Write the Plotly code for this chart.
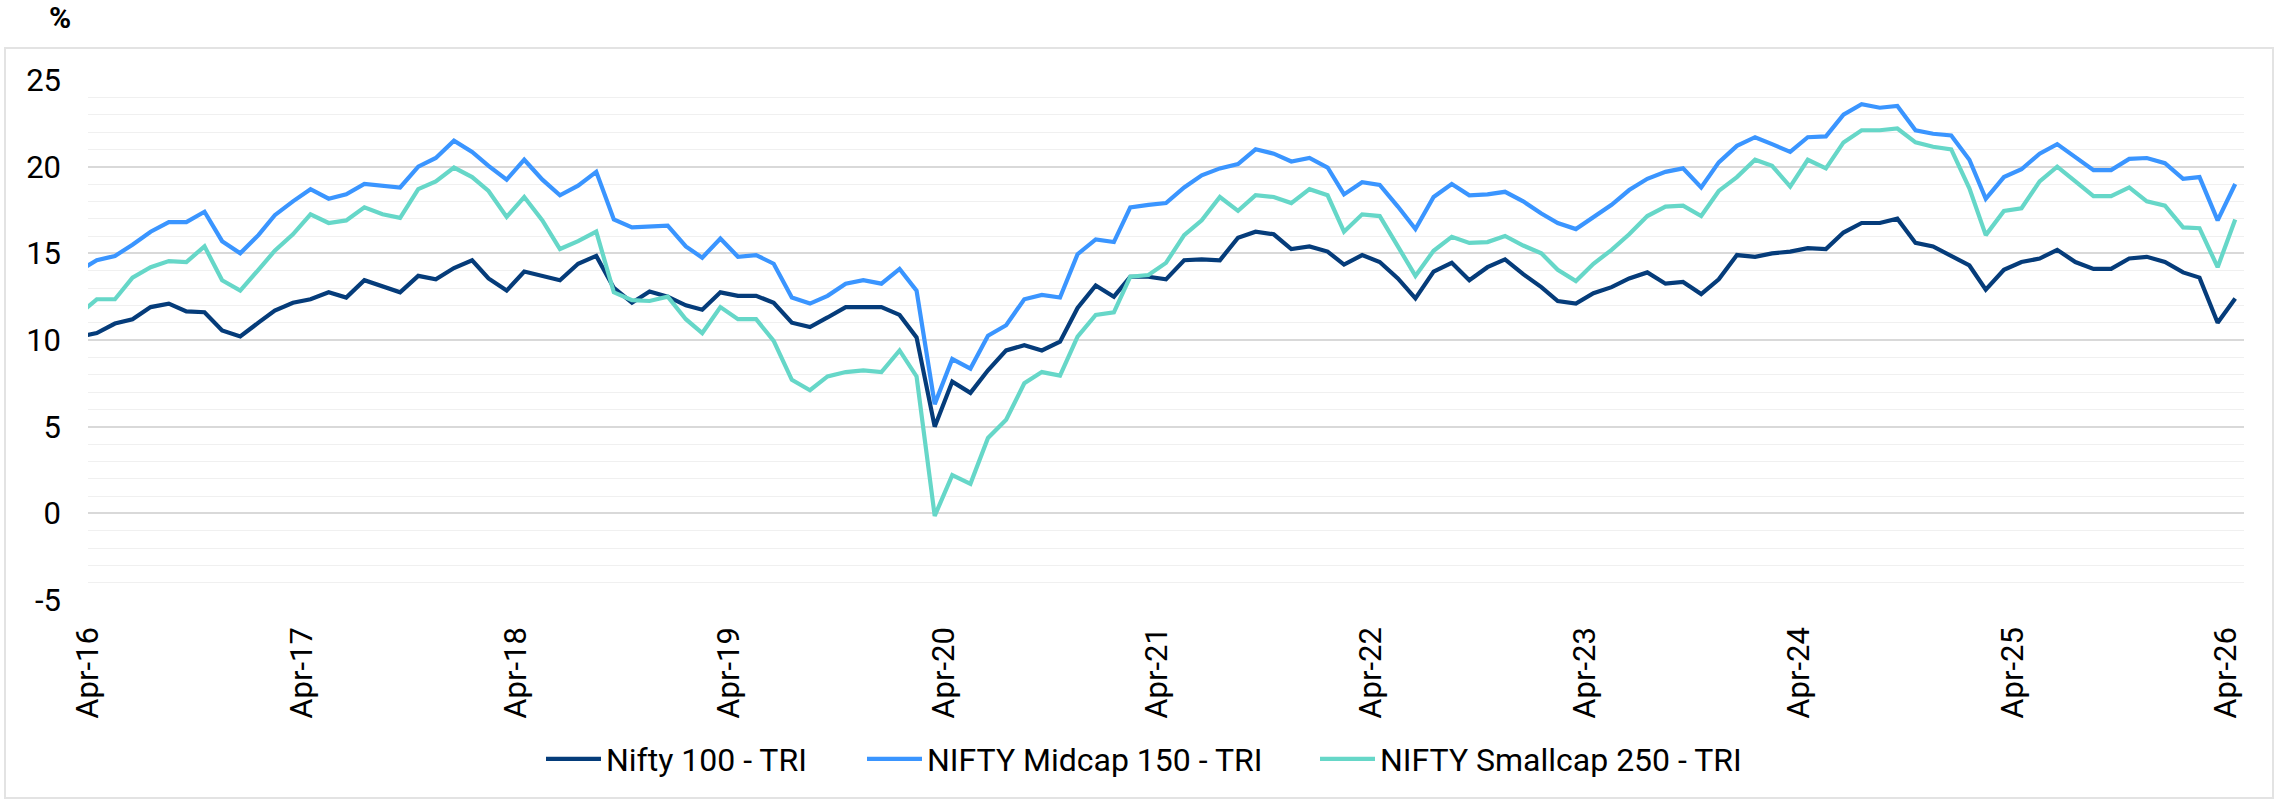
import pandas as pd
import plotly.graph_objects as go

# Month-end observations, Mar-2016 .. Apr-2026
months = pd.date_range(start="2016-03-31", periods=122, freq=pd.offsets.MonthEnd())

nifty_100_tri = [
    10.2, 10.4, 10.95, 11.2, 11.9, 12.1, 11.65, 11.6, 10.55, 10.2,
    11.0, 11.7, 12.15, 12.35, 12.75, 12.45, 13.45, 13.1, 12.75, 13.7,
    13.5, 14.15, 14.6, 13.55, 12.85, 13.95, 13.7, 13.45, 14.4, 14.85,
    13.0, 12.15, 12.8, 12.5, 12.0, 11.75, 12.75, 12.55, 12.55, 12.15,
    11.0, 10.75, 11.3, 11.9, 11.9, 11.9, 11.45, 10.15, 5.0, 7.6,
    6.95, 8.25, 9.4, 9.7, 9.4, 9.9, 11.85, 13.15, 12.5, 13.65,
    13.65, 13.5, 14.6, 14.65, 14.6, 15.9, 16.25, 16.1, 15.25, 15.4,
    15.1, 14.35, 14.9, 14.5, 13.55, 12.4, 13.95, 14.45, 13.45, 14.2,
    14.65, 13.8, 13.05, 12.25, 12.1, 12.7, 13.05, 13.55, 13.9, 13.25,
    13.35, 12.65, 13.5, 14.9, 14.8, 15.0, 15.1, 15.3, 15.25, 16.2,
    16.75, 16.75, 17.0, 15.6, 15.4, 14.85, 14.3, 12.9, 14.05, 14.5,
    14.7, 15.2, 14.5, 14.1, 14.1, 14.7, 14.8, 14.5, 13.9, 13.6,
    11.0, 12.4,
]

midcap_150_tri = [
    14.0, 14.6, 14.85, 15.5, 16.25, 16.8, 16.8, 17.4, 15.7, 15.0,
    16.05, 17.2, 18.0, 18.7, 18.15, 18.4, 19.0, 18.9, 18.8, 20.0,
    20.5, 21.5, 20.85, 20.05, 19.25, 20.4, 19.25, 18.35, 18.9, 19.7,
    16.95, 16.5, 16.55, 16.6, 15.4, 14.75, 15.85, 14.8, 14.9, 14.4,
    12.45, 12.1, 12.55, 13.25, 13.45, 13.25, 14.1, 12.85, 6.3, 8.9,
    8.35, 10.25, 10.85, 12.35, 12.6, 12.45, 14.95, 15.8, 15.65, 17.65,
    17.8, 17.9, 18.8, 19.5, 19.9, 20.15, 21.0, 20.75, 20.3, 20.5,
    19.95, 18.4, 19.1, 18.95, 17.7, 16.4, 18.25, 19.0, 18.35, 18.4,
    18.55, 18.0, 17.3, 16.75, 16.4, 17.1, 17.8, 18.65, 19.3, 19.7,
    19.9, 18.8, 20.25, 21.2, 21.7, 21.3, 20.85, 21.7, 21.75, 23.0,
    23.6, 23.4, 23.5, 22.1, 21.9, 21.8, 20.4, 18.15, 19.4, 19.85,
    20.75, 21.3, 20.55, 19.8, 19.8, 20.45, 20.5, 20.2, 19.3, 19.4,
    16.9, 19.0,
]

smallcap_250_tri = [
    11.5, 12.35, 12.35, 13.6, 14.2, 14.55, 14.5, 15.4, 13.45, 12.85,
    14.05, 15.15, 16.1, 17.25, 16.75, 16.9, 17.65, 17.25, 17.05, 18.7,
    19.15, 19.95, 19.4, 18.6, 17.1, 18.25, 16.9, 15.25, 15.7, 16.25,
    12.75, 12.3, 12.25, 12.5, 11.2, 10.4, 11.9, 11.2, 11.2, 9.95,
    7.7, 7.1, 7.9, 8.15, 8.25, 8.15, 9.4, 7.9, -0.15, 2.2,
    1.7, 4.35, 5.4, 7.5, 8.15, 7.95, 10.2, 11.45, 11.6, 13.65,
    13.75, 14.45, 16.05, 16.9, 18.25, 17.45, 18.35, 18.25, 17.9, 18.7,
    18.35, 16.25, 17.25, 17.15, 15.4, 13.7, 15.15, 15.95, 15.6, 15.65,
    16.0, 15.45, 15.0, 14.05, 13.4, 14.4, 15.2, 16.1, 17.15, 17.7,
    17.75, 17.15, 18.6, 19.4, 20.4, 20.05, 18.85, 20.4, 19.9, 21.4,
    22.1, 22.1, 22.2, 21.4, 21.15, 21.0, 18.75, 16.05, 17.45, 17.6,
    19.15, 20.0, 19.15, 18.3, 18.3, 18.8, 18.0, 17.75, 16.5, 16.45,
    14.2, 16.95,
]

series_names = ["Nifty 100 - TRI", "NIFTY Midcap 150 - TRI", "NIFTY Smallcap 250 - TRI"]
series_values = [nifty_100_tri, midcap_150_tri, smallcap_250_tri]
series_colors = ["#053C7A", "#3A95FF", "#66D7C8"]

tick_dates = [f"{yr}-04-15" for yr in range(2016, 2027)]
tick_labels = ["Apr-16", "Apr-17", "Apr-18", "Apr-19", "Apr-20", "Apr-21",
               "Apr-22", "Apr-23", "Apr-24", "Apr-25", "Apr-26"]
y_ticks = [-5, 0, 5, 10, 15, 20, 25]
y_tick_labels = ["-5", "0", "5", "10", "15", "20", "25"]

W, H = 2282, 801
L, R, T, B = 88, 38, 80, 201
X_RANGE = ["2016-04-15", "2026-05-15"]
Y_RANGE = [-5, 25]
FONT = "Roboto, Arial, sans-serif"
GRID_MAJOR = "#D9D9D9"
GRID_MINOR = "#F0F0F0"

# one legend box per series, placed side by side under the chart
legend_ids = ["legend", "legend2", "legend3"]
legend_text_px = [606, 927, 1380]   # where each entry's label begins
legend_item_w = 55
legend_mid_px = 759

fig = go.Figure()
for name, vals, color, lid in zip(series_names, series_values, series_colors, legend_ids):
    fig.add_trace(go.Scatter(
        x=months, y=vals, name=name, mode="lines",
        line=dict(color=color, width=4.2), legend=lid,
    ))

plot_w = W - L - R
plot_h = H - T - B

legend_layout = {}
for lid, text_x in zip(legend_ids, legend_text_px):
    legend_layout[lid] = dict(
        orientation="h", xref="container", yref="container",
        x=(text_x - legend_item_w - 10) / W, xanchor="left",
        y=1 - legend_mid_px / H, yanchor="middle",
        itemwidth=legend_item_w,
        font=dict(family=FONT, size=32, color="#000000"),
        bgcolor="rgba(0,0,0,0)", borderwidth=0,
    )

fig.update_layout(
    width=W, height=H,
    margin=dict(l=L, r=R, t=T, b=B, pad=0),
    paper_bgcolor="white", plot_bgcolor="white",
    font=dict(family=FONT, size=31, color="#000000"),
    showlegend=True,
    xaxis=dict(
        type="date", range=X_RANGE,
        tickmode="array", tickvals=tick_dates, ticktext=tick_labels,
        tickangle=-90, ticks="", showgrid=False, showline=False, zeroline=False,
        ticklabelstandoff=20,
        tickfont=dict(family=FONT, size=31, color="#000000"),
    ),
    # axis line with tick marks drawn across the chart at y = 0
    xaxis2=dict(
        type="date", range=X_RANGE, overlaying="x",
        anchor="free", position=(0 - Y_RANGE[0]) / (Y_RANGE[1] - Y_RANGE[0]),
        tickmode="array", tickvals=tick_dates, showticklabels=False,
        ticks="outside", ticklen=10, tickwidth=1.5, tickcolor=GRID_MAJOR,
        showline=True, linecolor=GRID_MAJOR, linewidth=1.5,
        showgrid=False, zeroline=False,
    ),
    yaxis=dict(
        range=Y_RANGE, tickmode="array", tickvals=y_ticks, ticktext=y_tick_labels,
        showgrid=True, gridcolor=GRID_MAJOR, gridwidth=1.5,
        zeroline=False, showline=False, ticks="",
        ticklabelstandoff=26,
        tickfont=dict(family=FONT, size=31, color="#000000"),
        minor=dict(tickmode="linear", tick0=-5, dtick=1, showgrid=True,
                   gridcolor=GRID_MINOR, gridwidth=1.3),
    ),
    **legend_layout,
)

fig.add_annotation(
    text="<b>%</b>", xref="paper", yref="paper",
    x=(60 - L) / plot_w, y=(H - B - 18) / plot_h,
    xanchor="center", yanchor="middle", showarrow=False,
    font=dict(family=FONT, size=30, color="#000000"),
)

# light frame around the whole chart area
fig.add_shape(
    type="rect", xref="paper", yref="paper",
    x0=(5 - L) / plot_w, x1=(2273 - L) / plot_w,
    y0=(H - B - 798) / plot_h, y1=(H - B - 48) / plot_h,
    line=dict(color="#E3E3E3", width=2), fillcolor="rgba(0,0,0,0)", layer="below",
)

fig.write_html("out.html")
